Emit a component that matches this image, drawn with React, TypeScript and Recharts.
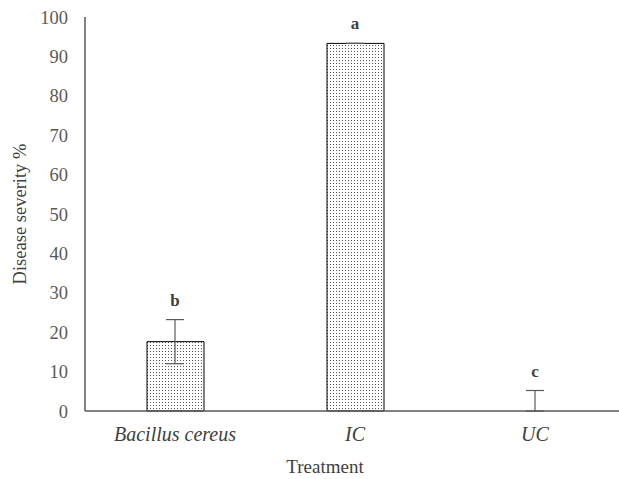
import React from "react";
import {
  ComposedChart,
  Bar,
  Scatter,
  XAxis,
  YAxis,
  ErrorBar,
  Label,
} from "recharts";

const treatments = ["Bacillus cereus", "IC", "UC"];
const severity = [17.6, 93.3, 0];
const errLow = [5.6, 0, 0];
const errHigh = [5.6, 0, 5.2];
const letters = ["b", "a", "c"];
const yTicks = [0, 10, 20, 30, 40, 50, 60, 70, 80, 90, 100];

const data = treatments.map((name, i) => ({
  name,
  value: severity[i],
  err: [errLow[i], errHigh[i]],
  top: severity[i] + errHigh[i],
  letter: letters[i],
}));

const FONT = "'Liberation Serif', 'Times New Roman', serif";
const TEXT = "#404040";
const AXIS = "#595959";

const CategoryTick = (props: any) => {
  const { x, y, payload } = props;
  return (
    <text
      x={x}
      y={y}
      dy={22}
      textAnchor="middle"
      fontFamily={FONT}
      fontSize={20}
      fontStyle="italic"
      fill={TEXT}
    >
      {payload.value}
    </text>
  );
};

const LetterShape = (props: any) => {
  const { cx, cy, payload } = props;
  return (
    <text
      x={cx}
      y={cy - 14}
      textAnchor="middle"
      fontFamily={FONT}
      fontSize={17}
      fontWeight="bold"
      fill={TEXT}
    >
      {payload.letter}
    </text>
  );
};

const NoShape = () => <g />;

const XTitle = (props: any) => {
  const { viewBox } = props;
  return (
    <text
      x={viewBox.x + viewBox.width / 2 - 30}
      y={viewBox.y + viewBox.height - 6}
      textAnchor="middle"
      fontFamily={FONT}
      fontSize={19}
      fill={TEXT}
    >
      Treatment
    </text>
  );
};

export default function App() {
  return (
    <div
      style={{
        position: "absolute",
        left: 0,
        top: 0,
        width: 619,
        height: 479,
        overflow: "hidden",
        background: "#fff",
      }}
    >
      <ComposedChart
        width={625}
        height={479}
        data={data}
        margin={{ top: 17, right: 0, left: 0, bottom: 0 }}
      >
        <defs>
          <pattern
            id="dots"
            width="3"
            height="3"
            patternUnits="userSpaceOnUse"
          >
            <rect width="3" height="3" fill="#fff" />
            <rect x="0" y="0" width="1" height="1" fill="#555" />
          </pattern>
        </defs>
        <XAxis
          dataKey="name"
          height={68}
          axisLine={{ stroke: AXIS, strokeWidth: 1.5 }}
          tickLine={false}
          tick={<CategoryTick />}
          interval={0}
        >
          <Label content={<XTitle />} />
        </XAxis>
        <YAxis
          type="number"
          domain={[0, 100]}
          ticks={yTicks}
          width={85}
          axisLine={{ stroke: AXIS, strokeWidth: 1.5 }}
          tickLine={false}
          tickMargin={11}
          tick={{ fontFamily: FONT, fontSize: 18.5, fill: AXIS }}
        >
          <Label
            value="Disease severity %"
            angle={-90}
            position="insideLeft"
            offset={19}
            style={{
              fontFamily: FONT,
              fontSize: 18.5,
              fill: TEXT,
              textAnchor: "middle",
            }}
          />
        </YAxis>
        <Bar
          dataKey="value"
          barSize={57}
          fill="url(#dots)"
          stroke="#000"
          strokeWidth={1}
          isAnimationActive={false}
        />
        <Scatter dataKey="value" shape={<NoShape />} isAnimationActive={false}>
          <ErrorBar
            dataKey="err"
            direction="y"
            width={9}
            stroke={AXIS}
            strokeWidth={1.2}
          />
        </Scatter>
        <Scatter
          dataKey="top"
          shape={<LetterShape />}
          isAnimationActive={false}
        />
      </ComposedChart>
    </div>
  );
}
